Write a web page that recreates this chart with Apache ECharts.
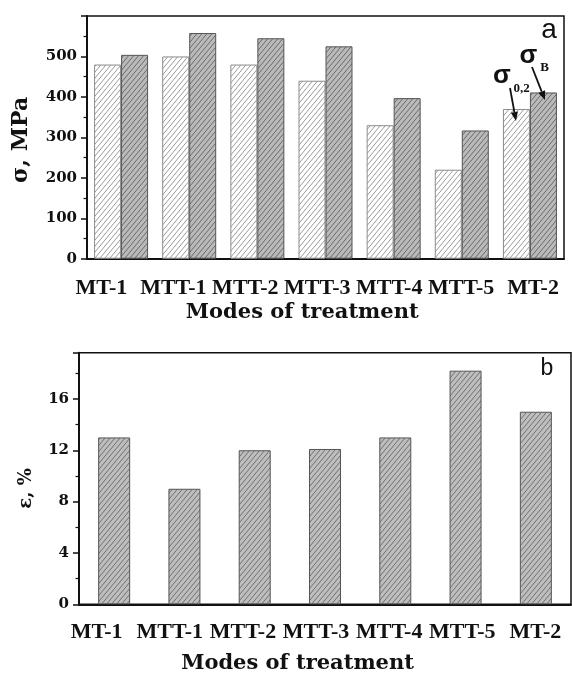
<!DOCTYPE html>
<html>
<head>
<meta charset="utf-8">
<script src="https://cdn.jsdelivr.net/npm/echarts@6/dist/echarts.min.js"></script>
<style>html,body{margin:0;padding:0;background:#fff;}#c{width:572px;height:675px;}</style>
</head>
<body>
<div id="c"></div>
<script>
// ---- data ----
const categories = ['MT-1', 'MTT-1', 'MTT-2', 'MTT-3', 'MTT-4', 'MTT-5', 'MT-2'];
const yieldStrength = [480, 500, 480, 440, 330, 220, 370];    // sigma 0,2 (MPa)
const tensileStrength = [504, 558, 545, 525, 397, 317, 411];  // sigma B (MPa)
const elongation = [13, 9, 12, 12.1, 13, 18.2, 15];           // epsilon (%)
const stressTicks = [0, 100, 200, 300, 400, 500];
const elongTicks = [0, 4, 8, 12, 16];

function hatch(bg, fg, w, h, lw) {
  const c = document.createElement('canvas');
  c.width = w; c.height = h;
  const ctx = c.getContext('2d');
  ctx.fillStyle = bg; ctx.fillRect(0, 0, w, h);
  ctx.strokeStyle = fg; ctx.lineWidth = lw;
  for (let k = 0; k <= 2; k++) {
    ctx.beginPath();
    ctx.moveTo(-w, k * h + h);
    ctx.lineTo(2 * w, k * h - 2 * h);
    ctx.stroke();
  }
  return c;
}
const lightPat = { image: hatch('#ffffff', '#9a9a9a', 5, 6, 1), repeat: 'repeat' };
const darkPat = { image: hatch('#bababa', '#6a6a6a', 5, 6, 1), repeat: 'repeat' };
const darkPat2 = { image: hatch('#bebebe', '#707070', 5, 6, 1), repeat: 'repeat' };

const serifB = { fontFamily: 'Liberation Serif', fontWeight: 'bold', color: '#111' };
const dejaB = { fontFamily: 'DejaVu Serif', fontWeight: 'bold', color: '#111' };

function arrow(x1, y1, x2, y2) {
  const dx = x2 - x1, dy = y2 - y1, L = Math.sqrt(dx * dx + dy * dy);
  const ux = dx / L, uy = dy / L, hl = 9, hw = 3.6;
  const bx = x2 - ux * hl, by = y2 - uy * hl;
  return [
    { type: 'line', z: 100, silent: true, shape: { x1: x1, y1: y1, x2: bx, y2: by }, style: { stroke: '#111', lineWidth: 1.8 } },
    { type: 'polygon', z: 100, silent: true, shape: { points: [[x2, y2], [bx - uy * hw, by + ux * hw], [bx + uy * hw, by - ux * hw]] }, style: { fill: '#111' } }
  ];
}

const chart = echarts.init(document.getElementById('c'), null, { renderer: 'canvas' });
const option = {
  animation: false,
  backgroundColor: '#ffffff',
  grid: [
    { left: 87, top: 16, width: 477, height: 242.7, show: true, borderColor: '#111', borderWidth: 1.5, containLabel: false },
    { left: 65.5, top: 16, width: 503.5, height: 242.7, containLabel: false },
    { left: 79, top: 352.7, width: 492, height: 251.6, show: true, borderColor: '#111', borderWidth: 1.5, containLabel: false },
    { left: 60.1, top: 352.7, width: 516.8, height: 251.6, containLabel: false }
  ],
  xAxis: [
    { gridIndex: 0, type: 'category', data: categories,
      axisLine: { lineStyle: { color: '#111', width: 2 } },
      axisTick: { alignWithLabel: true, length: 5, lineStyle: { color: '#111', width: 1.5 } },
      axisLabel: { show: false } },
    { gridIndex: 1, type: 'category', data: categories,
      axisLine: { show: false }, axisTick: { show: false },
      axisLabel: Object.assign({ interval: 0, margin: 19, fontSize: 22 }, serifB),
      name: 'Modes of treatment', nameLocation: 'middle', nameGap: 43,
      nameTextStyle: Object.assign({ fontSize: 21, padding: [0, 30, 0, 0] }, dejaB) },
    { gridIndex: 2, type: 'category', data: categories,
      axisLine: { lineStyle: { color: '#111', width: 2 } },
      axisTick: { alignWithLabel: true, length: 5, lineStyle: { color: '#111', width: 1.5 } },
      axisLabel: { show: false } },
    { gridIndex: 3, type: 'category', data: categories,
      axisLine: { show: false }, axisTick: { show: false },
      axisLabel: Object.assign({ interval: 0, margin: 20, fontSize: 22 }, serifB),
      name: 'Modes of treatment', nameLocation: 'middle', nameGap: 52,
      nameTextStyle: Object.assign({ fontSize: 21, padding: [0, 37, 0, 0] }, dejaB) }
  ],
  yAxis: [
    { gridIndex: 0, type: 'value', min: 0, max: 600, interval: 100,
      axisLine: { show: true, lineStyle: { color: '#111', width: 2 } },
      axisTick: { show: true, length: 6, lineStyle: { color: '#111', width: 1.5 } },
      minorTick: { show: true, splitNumber: 2, length: 3.5, lineStyle: { color: '#111', width: 1.2 } },
      splitLine: { show: false },
      axisLabel: Object.assign({ margin: 10, fontSize: 15, showMaxLabel: false,
        formatter: function (v) { return stressTicks.indexOf(v) >= 0 ? String(v) : ''; } }, dejaB),
      name: 'σ, MPa', nameLocation: 'middle', nameGap: 55, nameRotate: 90,
      nameTextStyle: Object.assign({ fontSize: 22, padding: [0, 5, 0, 0] }, dejaB) },
    { gridIndex: 1, type: 'value', min: 0, max: 1, show: false },
    { gridIndex: 2, type: 'value', min: 0, max: 19.6, interval: 4,
      axisLine: { show: true, lineStyle: { color: '#111', width: 2 } },
      axisTick: { show: true, length: 6, lineStyle: { color: '#111', width: 1.5 } },
      minorTick: { show: true, splitNumber: 2, length: 3.5, lineStyle: { color: '#111', width: 1.2 } },
      splitLine: { show: false },
      axisLabel: Object.assign({ margin: 10, fontSize: 15, showMaxLabel: false,
        formatter: function (v) { return elongTicks.indexOf(v) >= 0 ? String(v) : ''; } }, dejaB),
      name: 'ε, %', nameLocation: 'middle', nameGap: 44, nameRotate: 90,
      nameTextStyle: Object.assign({ fontSize: 18, padding: [0, 20, 0, 0] }, dejaB) },
    { gridIndex: 3, type: 'value', min: 0, max: 1, show: false }
  ],
  series: [
    { name: 'σ0,2', type: 'bar', xAxisIndex: 0, yAxisIndex: 0, data: yieldStrength,
      barWidth: 27, barGap: '0%',
      itemStyle: { color: lightPat, borderColor: '#8c8c8c', borderWidth: 1 } },
    { name: 'σB', type: 'bar', xAxisIndex: 0, yAxisIndex: 0, data: tensileStrength,
      barWidth: 27, barGap: '0%',
      itemStyle: { color: darkPat, borderColor: '#555555', borderWidth: 1 } },
    { name: 'ε', type: 'bar', xAxisIndex: 2, yAxisIndex: 2, data: elongation,
      barWidth: 32,
      itemStyle: { color: darkPat2, borderColor: '#555555', borderWidth: 1 } }
  ],
  graphic: [
    { type: 'text', z: 100, silent: true, style: { text: 'a', x: 549, y: 30, align: 'center', verticalAlign: 'middle', font: '28px "Liberation Sans"', fill: '#111' } },
    { type: 'text', z: 100, silent: true, style: { text: 'b', x: 547, y: 369, align: 'center', verticalAlign: 'middle', font: '23px "Liberation Sans"', fill: '#111' } },
    { type: 'text', z: 100, silent: true, style: { text: 'σ', x: 528.5, y: 56, align: 'center', verticalAlign: 'middle', font: 'bold 26px "Liberation Sans"', fill: '#111' } },
    { type: 'text', z: 100, silent: true, style: { text: 'B', x: 544.5, y: 67.5, align: 'center', verticalAlign: 'middle', font: 'bold 13px "Liberation Serif"', fill: '#111' } },
    { type: 'text', z: 100, silent: true, style: { text: 'σ', x: 502, y: 76, align: 'center', verticalAlign: 'middle', font: 'bold 26px "Liberation Sans"', fill: '#111' } },
    { type: 'text', z: 100, silent: true, style: { text: '0,2', x: 521.5, y: 88.5, align: 'center', verticalAlign: 'middle', font: 'bold 13px "Liberation Serif"', fill: '#111' } }
  ].concat(arrow(510, 88, 516, 121)).concat(arrow(532, 67, 545, 100))
};
chart.setOption(option);
</script>
</body>
</html>
